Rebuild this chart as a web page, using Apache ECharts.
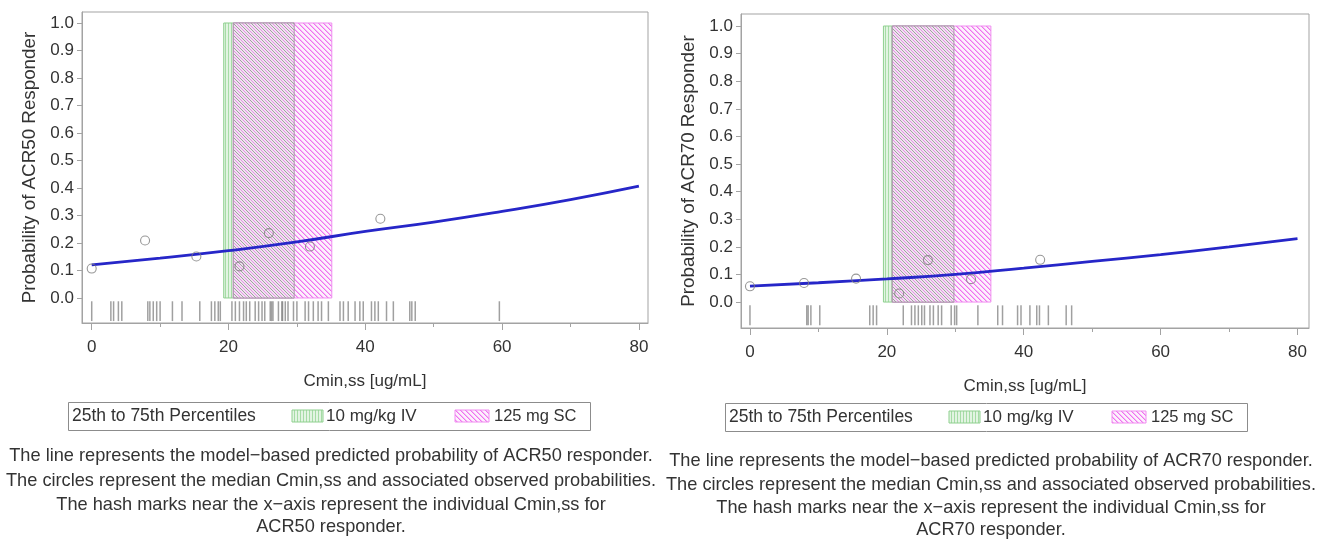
<!DOCTYPE html>
<html><head><meta charset="utf-8">
<script src="https://cdn.jsdelivr.net/npm/echarts@6/dist/echarts.min.js"></script>
<style>html,body{margin:0;padding:0;background:#fff}#c{width:1327px;height:540px}</style>
</head><body><div id="c"></div>
<script>
// ---------- data ----------
const xTickValues = [0, 20, 40, 60, 80];
const xMinorTickValues = [10, 30, 50, 70];
const yTickValues = [0, 0.1, 0.2, 0.3, 0.4, 0.5, 0.6, 0.7, 0.8, 0.9, 1.0];

const curveX = [0, 10, 20, 30, 40, 50, 60, 70, 80];
const acr50Curve = [0.120, 0.145, 0.172, 0.204, 0.242, 0.276, 0.315, 0.358, 0.407];
const acr70Curve = [0.058, 0.070, 0.084, 0.100, 0.123, 0.147, 0.172, 0.200, 0.230];

const acr50ObsX = [0, 7.8, 15.3, 21.6, 25.9, 31.9, 42.2];
const acr50ObsY = [0.107, 0.209, 0.151, 0.115, 0.236, 0.187, 0.288];
const acr70ObsX = [0, 7.9, 15.5, 21.8, 26.0, 32.3, 42.4];
const acr70ObsY = [0.057, 0.069, 0.085, 0.031, 0.152, 0.083, 0.153];

const acr50IvBand = [19.3, 29.6];
const acr50ScBand = [20.7, 35.1];
const acr70IvBand = [19.5, 29.8];
const acr70ScBand = [20.8, 35.2];
const bandTop = 1.0;

const acr50Rug = [0, 2.8, 3.2, 3.9, 4.4, 8.2, 8.5, 9.0, 9.5, 10.0, 11.8, 13.2, 15.8, 17.5, 18.0, 18.5, 18.8,
  20.5, 21.0, 21.6, 22.2, 22.6, 23.1, 23.9, 24.4, 24.9, 25.3, 26.1, 26.3, 26.5, 27.3, 27.8, 27.9, 28.3, 28.7, 29.5,
  30.0, 31.2, 31.7, 32.4, 33.1, 33.6, 34.6, 36.3, 36.8, 37.5, 38.5, 39.2, 39.7, 40.9, 41.4, 41.9,
  43.1, 44.1, 46.5, 46.8, 47.3, 59.6];
const acr70Rug = [0, 8.3, 8.5, 8.9, 10.2, 17.5, 18.0, 18.5, 22.4, 23.6, 24.1, 24.6, 25.1, 25.5, 26.3, 26.8,
  27.5, 28.0, 29.4, 29.9, 30.2, 33.3, 36.2, 36.9, 39.1, 39.6, 40.9, 41.9, 42.3, 43.6, 46.2, 47.0];

const xTitle = 'Cmin,ss [ug/mL]';
const yTitles = ['Probability of ACR50 Responder', 'Probability of ACR70 Responder'];
const legendTitle = '25th to 75th Percentiles';
const legendNames = ['10 mg/kg IV', '125 mg SC'];
const captions = [
  ['The line represents the model\u2212based predicted probability of ACR50 responder.',
   'The circles represent the median Cmin,ss and associated observed probabilities.',
   'The hash marks near the x\u2212axis represent the individual Cmin,ss for',
   'ACR50 responder.'],
  ['The line represents the model\u2212based predicted probability of ACR70 responder.',
   'The circles represent the median Cmin,ss and associated observed probabilities.',
   'The hash marks near the x\u2212axis represent the individual Cmin,ss for',
   'ACR70 responder.']
];

// ---------- styles ----------
const F = "'Liberation Sans', Arial, sans-serif";
const TXT = '#333';
const AX = '#a3a3a3';

function pattern(kind) {
  const c = document.createElement('canvas');
  const ctx = c.getContext('2d');
  if (kind === 'iv') {
    c.width = 3; c.height = 3;
    ctx.fillStyle = '#e2f4e2'; ctx.fillRect(0, 0, 3, 3);
    ctx.fillStyle = '#a6dca6'; ctx.fillRect(0, 0, 1, 3);
  } else if (kind === 'sc') {
    c.width = 5; c.height = 5;
    ctx.fillStyle = '#fdf0fd'; ctx.fillRect(0, 0, 5, 5);
    for (let i = 0; i < 5; i++) {
      ctx.fillStyle = '#ef72ef'; ctx.fillRect(i, i, 1, 1);
      ctx.fillStyle = '#f6b8f6'; ctx.fillRect((i + 1) % 5, i, 1, 1);
    }
  } else {
    c.width = 6; c.height = 6;
    ctx.fillStyle = '#efe4ef'; ctx.fillRect(0, 0, 6, 6);
    for (let i = 0; i < 6; i++) {
      ctx.fillStyle = '#a39aa3'; ctx.fillRect(i, i, 1, 1);
      ctx.fillStyle = '#e98de9'; ctx.fillRect((i + 3) % 6, i, 1, 1);
    }
  }
  return { image: c, repeat: 'repeat' };
}
const PAT_IV = pattern('iv'), PAT_SC = pattern('sc'), PAT_OV = pattern('ov');

// panel geometry (frames)
const panels = [
  { left: 82, top: 12, width: 566, height: 311, xmin: -1.42, xmax: 81.33, ymin: -0.091, ymax: 1.040,
    curve: acr50Curve, obsX: acr50ObsX, obsY: acr50ObsY, iv: acr50IvBand, sc: acr50ScBand, rug: acr50Rug },
  { left: 741, top: 14, width: 568, height: 314, xmin: -1.31, xmax: 81.68, ymin: -0.094, ymax: 1.0435,
    curve: acr70Curve, obsX: acr70ObsX, obsY: acr70ObsY, iv: acr70IvBand, sc: acr70ScBand, rug: acr70Rug }
];

const grid = [], xAxis = [], yAxis = [], series = [];
panels.forEach((p, gi) => {
  grid.push({ left: p.left, top: p.top, width: p.width, height: p.height, show: true,
    borderColor: AX, borderWidth: 1, backgroundColor: 'transparent', containLabel: false });
  xAxis.push({ type: 'value', gridIndex: gi, min: p.xmin, max: p.xmax, position: 'bottom',
    name: xTitle, nameLocation: 'middle', nameGap: 50,
    nameTextStyle: { fontFamily: F, fontSize: 17, color: TXT },
    axisLine: { show: true, onZero: false, lineStyle: { color: AX } },
    axisTick: { show: true, customValues: xTickValues, length: 7, lineStyle: { color: AX } },
    axisLabel: { customValues: xTickValues, fontFamily: F, fontSize: 17, color: TXT, margin: 16 },
    splitLine: { show: false } });
  xAxis.push({ type: 'value', gridIndex: gi, min: p.xmin, max: p.xmax, position: 'bottom',
    axisLine: { show: false, onZero: false },
    axisTick: { show: true, customValues: xMinorTickValues, length: 4, lineStyle: { color: AX } },
    axisLabel: { show: false }, splitLine: { show: false } });
  yAxis.push({ type: 'value', gridIndex: gi, min: p.ymin, max: p.ymax,
    name: yTitles[gi], nameLocation: 'middle', nameGap: 43,
    nameTextStyle: { fontFamily: F, fontSize: 18.8, color: TXT },
    axisLine: { show: true, onZero: false, lineStyle: { color: AX } },
    axisTick: { show: true, customValues: yTickValues, length: 5, lineStyle: { color: AX } },
    axisLabel: { customValues: yTickValues, formatter: v => v.toFixed(1), fontFamily: F, fontSize: 17, color: TXT, margin: 8 },
    splitLine: { show: false } });

  const xi = gi * 2, yi = gi;
  const bandSeries = (band, fill, stroke, z) => ({
    type: 'custom', xAxisIndex: xi, yAxisIndex: yi, z: z, silent: true,
    encode: { x: [0, 1], y: 2 },
    data: [[band[0], band[1], bandTop]],
    renderItem: (params, api) => {
      const a = api.coord([api.value(0), api.value(2)]);
      const b = api.coord([api.value(1), 0]);
      return { type: 'rect', shape: { x: a[0], y: a[1], width: b[0] - a[0], height: b[1] - a[1] },
        style: { fill: fill, stroke: stroke, lineWidth: 1 } };
    }
  });
  series.push(bandSeries(p.iv, PAT_IV, '#8fd08f', 1));
  series.push(bandSeries(p.sc, PAT_SC, '#f08cf0', 2));
  // overlap of both percentile bands
  series.push(bandSeries([Math.max(p.iv[0], p.sc[0]), Math.min(p.iv[1], p.sc[1])], PAT_OV, '#a898a8', 3));

  series.push({ type: 'custom', xAxisIndex: xi, yAxisIndex: yi, z: 4, silent: true,
    encode: { x: 0 },
    data: p.rug.map(v => [v]),
    renderItem: (params, api) => {
      const a = api.coord([api.value(0), -0.012]);
      const b = api.coord([api.value(0), -0.084]);
      return { type: 'line', shape: { x1: a[0], y1: a[1], x2: b[0], y2: b[1] },
        style: { stroke: '#777', lineWidth: 1.5, opacity: 0.7 } };
    } });

  series.push({ type: 'line', xAxisIndex: xi, yAxisIndex: yi, z: 6, smooth: true, showSymbol: false,
    data: curveX.map((x, i) => [x, p.curve[i]]),
    lineStyle: { color: '#2626c8', width: 2.8 } });

  series.push({ type: 'scatter', xAxisIndex: xi, yAxisIndex: yi, z: 7, symbol: 'circle', symbolSize: 9,
    data: p.obsX.map((x, i) => [x, p.obsY[i]]),
    itemStyle: { color: 'rgba(0,0,0,0)', borderColor: '#7d7d7d', borderWidth: 1.1 } });
});

// legend boxes and captions
const graphic = [];
const legendBoxes = [{ x: 68, y: 402 }, { x: 725, y: 403 }];
const captionCenters = [331, 991];
const captionYs = [[456, 481, 505, 527], [461, 485, 508, 530]];
legendBoxes.forEach((b, i) => {
  graphic.push({ type: 'rect', shape: { x: b.x + 0.5, y: b.y + 0.5, width: 522, height: 28 },
    style: { fill: '#fff', stroke: '#8c8c8c', lineWidth: 1 } });
  const cy = b.y + 14;
  graphic.push({ type: 'text', x: b.x + 4, y: cy, style: { text: legendTitle, font: '17.5px ' + F, fill: TXT, textVerticalAlign: 'middle' } });
  graphic.push({ type: 'rect', shape: { x: b.x + 224, y: cy - 6, width: 31, height: 12 }, style: { fill: PAT_IV, stroke: '#8fd08f', lineWidth: 1 } });
  graphic.push({ type: 'text', x: b.x + 258, y: cy, style: { text: legendNames[0], font: '17px ' + F, fill: TXT, textVerticalAlign: 'middle' } });
  graphic.push({ type: 'rect', shape: { x: b.x + 387, y: cy - 6, width: 34, height: 12 }, style: { fill: PAT_SC, stroke: '#f08cf0', lineWidth: 1 } });
  graphic.push({ type: 'text', x: b.x + 426, y: cy, style: { text: legendNames[1], font: '16.5px ' + F, fill: TXT, textVerticalAlign: 'middle' } });
  captions[i].forEach((line, k) => {
    graphic.push({ type: 'text', x: captionCenters[i], y: captionYs[i][k],
      style: { text: line, font: '18.2px ' + F, fill: TXT, textAlign: 'center', textVerticalAlign: 'middle' } });
  });
});

const chart = echarts.init(document.getElementById('c'), null, { renderer: 'canvas' });
chart.setOption({ animation: false, backgroundColor: '#fff', grid, xAxis, yAxis, series, graphic });
</script>
</body></html>
